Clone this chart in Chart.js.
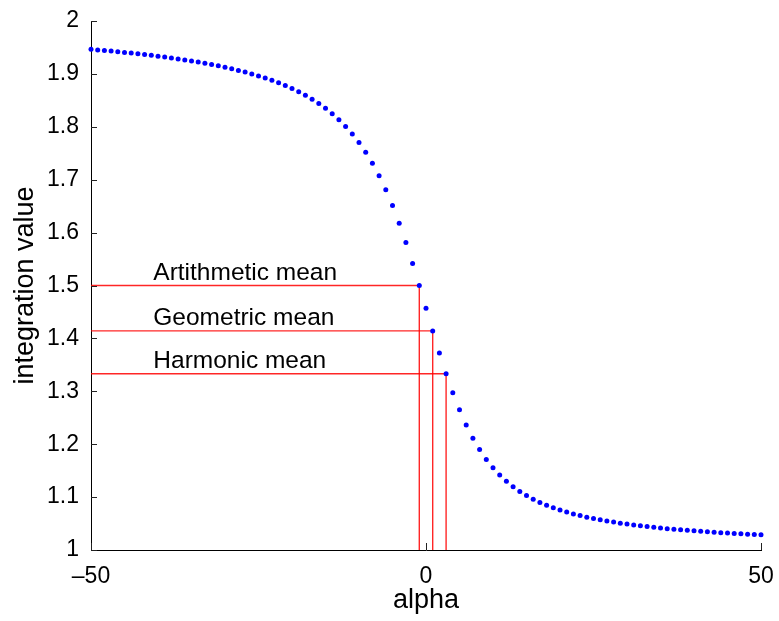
<!DOCTYPE html>
<html>
<head>
<meta charset="utf-8">
<title>integration value vs alpha</title>
<script src="https://cdn.jsdelivr.net/npm/chart.js@4.4.0/dist/chart.umd.min.js"></script>
<style>
    html, body { margin: 0; padding: 0; background: #fff; }
    canvas { display: block; }
</style>
</head>
<body>
<canvas id="meanChart" width="779" height="621"></canvas>
<script>
// ALPHA VALUES (ONE POINT PER INTEGER STEP)
const alphaValues = [
    -50, -49, -48, -47, -46, -45, -44, -43, -42, -41,
    -40, -39, -38, -37, -36, -35, -34, -33, -32, -31,
    -30, -29, -28, -27, -26, -25, -24, -23, -22, -21,
    -20, -19, -18, -17, -16, -15, -14, -13, -12, -11,
    -10, -9, -8, -7, -6, -5, -4, -3, -2, -1,
    0, 1,
    2, 3, 4, 5, 6, 7, 8, 9, 10, 11,
    12, 13, 14, 15, 16, 17, 18, 19, 20, 21,
    22, 23, 24, 25, 26, 27, 28, 29, 30, 31,
    32, 33, 34, 35, 36, 37, 38, 39, 40, 41,
    42, 43, 44, 45, 46, 47, 48, 49, 50
];

// INTEGRATION VALUE AT EACH ALPHA
const integrationValues = [
    1.9464, 1.9453, 1.9442, 1.9431, 1.9419, 1.9406, 1.9393, 1.9380, 1.9365, 1.9351,
    1.9335, 1.9319, 1.9302, 1.9284, 1.9265, 1.9244, 1.9223, 1.9201, 1.9177, 1.9152,
    1.9125, 1.9097, 1.9066, 1.9034, 1.8999, 1.8962, 1.8921, 1.8878, 1.8831, 1.8779,
    1.8724, 1.8662, 1.8595, 1.8521, 1.8440, 1.8349, 1.8248, 1.8135, 1.8007, 1.7864,
    1.7702, 1.7518, 1.7310, 1.7075, 1.6809, 1.6510, 1.6177, 1.5811, 1.5417, 1.5000,
    1.4571, 1.4142,
    1.3726, 1.3333, 1.2973, 1.2649, 1.2363, 1.2114, 1.1899, 1.1713, 1.1554, 1.1417,
    1.1298, 1.1196, 1.1107, 1.1029, 1.0960, 1.0900, 1.0846, 1.0798, 1.0755, 1.0717,
    1.0682, 1.0650, 1.0621, 1.0594, 1.0570, 1.0548, 1.0527, 1.0508, 1.0490, 1.0473,
    1.0457, 1.0443, 1.0429, 1.0416, 1.0404, 1.0393, 1.0382, 1.0372, 1.0362, 1.0353,
    1.0344, 1.0336, 1.0328, 1.0320, 1.0313, 1.0306, 1.0299, 1.0293, 1.0287
];

// AXIS TICKS
const xTicks = [-50, 0, 50];
const yTicks = [1, 1.1, 1.2, 1.3, 1.4, 1.5, 1.6, 1.7, 1.8, 1.9, 2];

// THE THREE MEANS AND WHERE THEY SIT ON THE CURVE
const meanNames = ['Artithmetic mean', 'Geometric mean', 'Harmonic mean'];
const meanAlphas = [-1, 1, 3];

const FONT = '"Liberation Sans", Arial, Helvetica, sans-serif';
Chart.defaults.font.family = FONT;
Chart.defaults.color = '#000';

function valueAt(alpha) {
    return integrationValues[alphaValues.indexOf(alpha)];
}

// RED GUIDE LINES: FROM THE LEFT AXIS TO THE POINT, THEN DOWN TO THE BOTTOM AXIS
const guideSets = meanAlphas.map((a) => {
    const v = valueAt(a);
    return {
        type: 'line',
        data: [{ x: xTicks[0], y: v }, { x: a, y: v }, { x: a, y: yTicks[0] }],
        borderColor: 'rgba(255, 0, 0, 0.85)',
        borderWidth: 1.4,
        pointRadius: 0,
        pointHoverRadius: 0,
        fill: false,
        tension: 0,
        order: 2
    };
});

// TICK MARKS POINT INTO THE PLOT
const inwardTicks = {
    id: 'inwardTicks',
    afterDraw(chart) {
        const { ctx, chartArea, scales: { x, y } } = chart;
        ctx.save();
        ctx.strokeStyle = '#222';
        ctx.lineWidth = 1;
        ctx.beginPath();
        y.ticks.forEach((t) => {
            const py = Math.round(y.getPixelForValue(t.value)) + 0.5;
            ctx.moveTo(chartArea.left, py);
            ctx.lineTo(chartArea.left + 6, py);
        });
        x.ticks.forEach((t) => {
            const px = Math.round(x.getPixelForValue(t.value)) + 0.5;
            ctx.moveTo(px, chartArea.bottom);
            ctx.lineTo(px, chartArea.bottom - 7);
        });
        ctx.stroke();
        ctx.restore();
    }
};

// TEXT ABOVE EACH HORIZONTAL GUIDE
const meanLabels = {
    id: 'meanLabels',
    afterDatasetsDraw(chart) {
        const { ctx, scales: { x, y } } = chart;
        ctx.save();
        ctx.font = '24.5px ' + FONT;
        ctx.fillStyle = '#000';
        ctx.textAlign = 'left';
        ctx.textBaseline = 'alphabetic';
        meanNames.forEach((name, i) => {
            const py = y.getPixelForValue(valueAt(meanAlphas[i]));
            ctx.fillText(name, x.getPixelForValue(-40.7), py - 6);
        });
        ctx.restore();
    }
};

const ctx = document.getElementById('meanChart');
new Chart(ctx, {
    type: 'scatter',
    data: {
        datasets: [{
            data: alphaValues.map((a, i) => ({ x: a, y: integrationValues[i] })),
            backgroundColor: '#0000ff',
            borderWidth: 0,
            pointRadius: 2.5,
            pointHoverRadius: 2.5,
            showLine: false,
            clip: false,
            order: 1
        }, ...guideSets]
    },
    options: {
        responsive: false,
        devicePixelRatio: 1,
        animation: false,
        events: [],
        layout: { padding: { top: 21, right: 18, left: 0, bottom: 0 } },
        plugins: {
            legend: { display: false },
            tooltip: { enabled: false }
        },
        scales: {
            x: {
                type: 'linear',
                min: -50,
                max: 50,
                afterBuildTicks: (scale) => { scale.ticks = xTicks.map((v) => ({ value: v })); },
                afterFit: (scale) => { scale.height = 71; },
                grid: { display: false },
                border: { display: true, color: '#000', width: 1 },
                ticks: {
                    autoSkip: false,
                    maxRotation: 0,
                    padding: 5,
                    font: { size: 23 },
                    callback: (v) => (v < 0 ? '\u2013' + Math.abs(v) : String(v))
                },
                title: {
                    display: true,
                    text: 'alpha',
                    font: { size: 27 },
                    padding: { top: 0, bottom: 4 }
                }
            },
            y: {
                type: 'linear',
                min: 1,
                max: 2,
                afterBuildTicks: (scale) => { scale.ticks = yTicks.map((v) => ({ value: v })); },
                afterFit: (scale) => { scale.width = 91; },
                grid: { display: false },
                border: { display: true, color: '#000', width: 1 },
                ticks: {
                    autoSkip: false,
                    padding: 4,
                    font: { size: 23 },
                    callback: (v) => String(+v.toFixed(1))
                },
                title: {
                    display: true,
                    text: 'integration value',
                    font: { size: 27 },
                    padding: { top: 9, bottom: 0 }
                }
            }
        }
    },
    plugins: [inwardTicks, meanLabels]
});
</script>
</body>
</html>
